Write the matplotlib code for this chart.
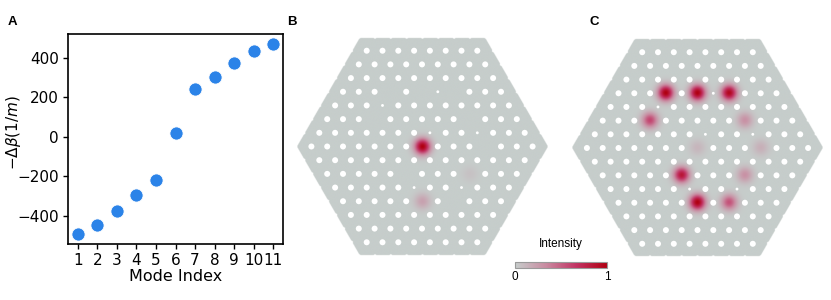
import numpy as np
import matplotlib
matplotlib.use('Agg')
import matplotlib.pyplot as plt
from matplotlib.colors import LinearSegmentedColormap, Normalize
from matplotlib.cm import ScalarMappable
from matplotlib.patches import Circle
from matplotlib.collections import PatchCollection

# panel A data
mode_index = list(range(1, 12))
delta_beta = [-493, -447, -376, -294, -220, 18, 243, 302, 371, 434, 471]

# cores (holes left out): row (0 = centre row, negative = above), offset in pitches
core_row = [-4, -4, -4, -2, -2, 0, 0, 2, 2, 4, 4]
core_col = [-2, 0, 2, -3, 3, 0, 4, -1, 3, 0, 2]
# peak intensity of each core, panel B and panel C
amp_b = [0, 0, 0, 0, 0, 1.0, 0, 0, 0.06, 0.22, 0]
amp_c = [1.0, 1.0, 0.95, 0.6, 0.3, 0.12, 0.15, 0.85, 0.3, 1.0, 0.55]
# reduced holes
small_row = [-4, -3, -1, -1, 3, 3]
small_col = [1, -2.5, 0.5, 3.5, -0.5, 2.5]

W, H = 831, 300
fig = plt.figure(figsize=(W / 100, H / 100), dpi=100)

cmap = LinearSegmentedColormap.from_list(
    'inten', ['#c6cdcb', '#c98ba1', '#c23363', '#b00012'])

# ---------------- panel A ----------------
ax = fig.add_axes([68 / W, 1 - 244 / H, 215 / W, 210 / H])
ax.scatter(mode_index, delta_beta, s=90, color='#2b83e8',
           edgecolor='white', linewidth=0.6, zorder=3)
ax.set_xticks(mode_index)
ax.set_yticks([-400, -200, 0, 200, 400])
ax.tick_params(labelsize=11, length=3.5, width=1, pad=3)
ax.set_xlabel('Mode Index', fontsize=11.5, labelpad=1)
ax.set_ylabel(r'$-\Delta\beta(1/m)$', fontsize=11)
ax.yaxis.set_label_coords(-0.211, 0.53)
for sp in ax.spines.values():
    sp.set_linewidth(1.2)

# ---------------- fibre panels ----------------
s3 = np.sqrt(3) / 2
hx, hy = [], []
for i in range(-7, 8):
    n = 15 - abs(i)
    for k in range(n):
        hx.append(-(n - 1) / 2 + k)
        hy.append(-i * s3)
hx = np.array(hx)
hy = np.array(hy)

cx_core = np.array(core_col, float)
cy_core = -np.array(core_row) * s3
sx = np.array(small_col, float)
sy = -np.array(small_row) * s3

apo = 6.87
gx = np.linspace(-8.3, 8.3, 900)
gy = np.linspace(-7.3, 7.3, 800)
X, Y = np.meshgrid(gx, gy)
dmin = np.full(X.shape, 99.0)
for px, py in zip(hx, hy):
    dmin = np.minimum(dmin, (X - px) ** 2 + (Y - py) ** 2)
inside = (np.abs(Y) <= apo) & (s3 * np.abs(X) + 0.5 * np.abs(Y) <= apo) & (dmin <= 0.9 ** 2)


def is_core(px, py):
    return np.any((np.abs(cx_core - px) < 1e-6) & (np.abs(cy_core - py) < 1e-6))


def is_small(px, py):
    return np.any((np.abs(sx - px) < 1e-6) & (np.abs(sy - py) < 1e-6))


def fibre(cx, cy, x0, x1, y0, y1, amps, a=15.8):
    axf = fig.add_axes([x0 / W, 1 - y1 / H, (x1 - x0) / W, (y1 - y0) / H])
    axf.set_facecolor('none')
    inten = np.zeros(X.shape)
    for px, py, am in zip(cx_core, cy_core, amps):
        inten += am * np.exp(-((X - px) ** 2 + (Y - py) ** 2) / (2 * 0.35 ** 2))
    rgba = cmap(np.clip(inten, 0, 1))
    rgba[..., 3] = inside.astype(float)
    axf.imshow(rgba, extent=[gx[0], gx[-1], gy[0], gy[-1]], origin='lower',
               interpolation='bilinear', aspect='auto')
    circles = []
    for px, py in zip(hx, hy):
        if is_core(px, py):
            continue
        r = 0.09 if is_small(px, py) else 0.19
        circles.append(Circle((px, py), r))
    axf.add_collection(PatchCollection(circles, facecolor='white',
                                       edgecolor='none', zorder=3))
    axf.set_xlim((x0 - cx) / a, (x1 - cx) / a)
    axf.set_ylim((cy - y1) / a, (cy - y0) / a)
    axf.axis('off')
    return axf


fibre(422, 146.5, 290, 556, 28, 262, amp_b)
fibre(697.5, 148, 565, 830, 28, 265, amp_c)

# colour bar
cax = fig.add_axes([515 / W, 1 - 268 / H, 92 / W, 6 / H])
cb = fig.colorbar(ScalarMappable(Normalize(0, 1), cmap), cax=cax,
                  orientation='horizontal', ticks=[0, 1])
cb.outline.set_edgecolor('#9a9a9a')
cb.outline.set_linewidth(0.8)
cax.tick_params(length=0, labelsize=8.5, pad=2.5)
for lbl in cax.get_xticklabels():
    lbl.set_family('Liberation Sans')
fig.text(561 / W, 1 - 247 / H, 'Intensity', ha='center', va='baseline',
         fontsize=8.5, family='Liberation Sans')

# panel letters
for x, lab in [(8, 'A'), (287, 'B'), (589, 'C')]:
    fig.text(x / W, 1 - 25 / H, lab, fontsize=9.5, fontweight='bold',
             family='Liberation Sans', va='baseline')

fig.savefig('out.png', dpi=100)
